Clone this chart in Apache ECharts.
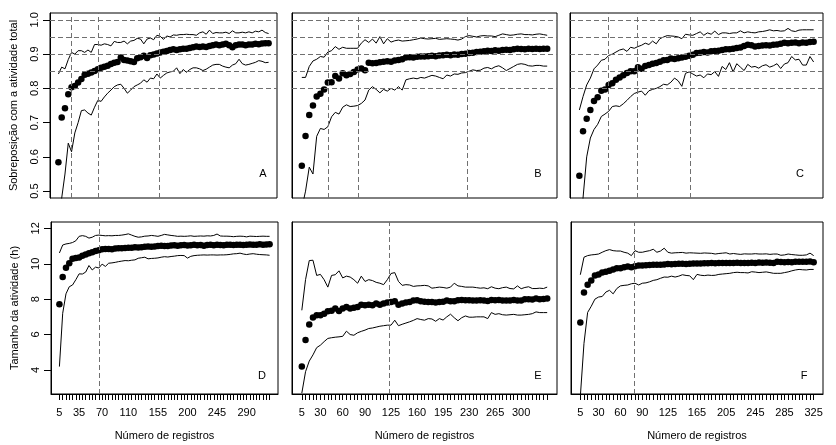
<!DOCTYPE html>
<html>
<head>
<meta charset="utf-8">
<script src="https://cdn.jsdelivr.net/npm/echarts@6/dist/echarts.min.js"></script>
<style>
html,body{margin:0;padding:0;background:#fff;}
#chart{width:836px;height:445px;}
</style>
</head>
<body>
<div id="chart"></div>
<script>
// ---------- data ----------
const records65 = [5,10,15,20,25,30,35,40,45,50,55,60,65,70,75,80,85,90,95,100,105,110,115,120,125,130,135,140,145,150,155,160,165,170,175,180,185,190,195,200,205,210,215,220,225,230,235,240,245,250,255,260,265,270,275,280,285,290,295,300,305,310,315,320,325];
const records67 = [5,10,15,20,25,30,35,40,45,50,55,60,65,70,75,80,85,90,95,100,105,110,115,120,125,130,135,140,145,150,155,160,165,170,175,180,185,190,195,200,205,210,215,220,225,230,235,240,245,250,255,260,265,270,275,280,285,290,295,300,305,310,315,320,325,330,335];

const xLabelsD = [5,35,70,110,155,200,245,290];
const xLabelsE = [5,30,60,90,125,160,195,230,265,300];
const xLabelsF = [5,30,60,90,125,165,205,245,285,325];

const yLimTop = [0.5, 1.0];
const yLimBottom = [3, 12];
const yTicksTop = [0.5,0.6,0.7,0.8,0.9,1.0];
const yTicksBottom = [4,6,8,10,12];
const hLevelsTop = [0.8,0.85,0.9,0.95,1.0];

const vLinesA = [25,66,158];
const vLinesB = [40,81,228];
const vLinesC = [44,84,157];
const vLinesD = [66];
const vLinesE = [122];
const vLinesF = [79];

const meanA = [0.584,0.715,0.742,0.783,0.803,0.807,0.817,0.827,0.840,0.843,
 0.846,0.851,0.856,0.860,0.863,0.866,0.871,0.875,0.877,0.890,
 0.883,0.881,0.879,0.877,0.888,0.891,0.895,0.889,0.897,0.899,
 0.902,0.905,0.907,0.909,0.912,0.914,0.912,0.914,0.916,0.916,
 0.918,0.920,0.922,0.921,0.922,0.921,0.924,0.926,0.928,0.926,
 0.928,0.930,0.926,0.920,0.926,0.928,0.928,0.926,0.928,0.928,
 0.930,0.929,0.931,0.932,0.932];
const upperA = [0.842,0.862,0.857,0.884,0.905,0.900,0.910,0.910,0.905,0.912,
 0.905,0.928,0.928,0.926,0.930,0.928,0.924,0.937,0.934,0.934,
 0.938,0.930,0.938,0.940,0.946,0.944,0.930,0.944,0.947,0.942,
 0.955,0.952,0.943,0.953,0.950,0.956,0.955,0.957,0.957,0.958,
 0.957,0.957,0.955,0.962,0.965,0.958,0.970,0.960,0.963,0.962,
 0.962,0.964,0.960,0.968,0.962,0.962,0.964,0.962,0.965,0.962,
 0.967,0.965,0.970,0.963,0.960];
const lowerA = [0.350,0.480,0.550,0.640,0.615,0.670,0.700,0.735,0.737,0.728,
 0.722,0.745,0.765,0.762,0.775,0.786,0.795,0.805,0.810,0.812,
 0.800,0.786,0.795,0.805,0.810,0.815,0.825,0.818,0.830,0.828,
 0.842,0.830,0.838,0.845,0.848,0.850,0.860,0.843,0.855,0.847,
 0.855,0.860,0.860,0.857,0.852,0.856,0.862,0.868,0.870,0.870,
 0.865,0.862,0.860,0.868,0.872,0.885,0.872,0.868,0.870,0.873,
 0.876,0.881,0.879,0.875,0.876];

const meanB = [0.574,0.661,0.722,0.750,0.776,0.784,0.797,0.817,0.818,0.836,
 0.829,0.844,0.838,0.842,0.848,0.855,0.858,0.853,0.875,0.873,
 0.874,0.876,0.878,0.879,0.878,0.881,0.883,0.885,0.890,0.891,
 0.890,0.892,0.893,0.893,0.894,0.895,0.894,0.896,0.897,0.898,
 0.897,0.899,0.898,0.900,0.901,0.903,0.904,0.906,0.907,0.908,
 0.910,0.909,0.911,0.910,0.912,0.913,0.912,0.914,0.916,0.915,
 0.914,0.916,0.915,0.916,0.915,0.916,0.916];
const upperB = [0.832,0.832,0.864,0.880,0.885,0.893,0.891,0.906,0.910,0.922,
 0.914,0.920,0.917,0.917,0.917,0.917,0.932,0.942,0.934,0.944,
 0.932,0.951,0.930,0.945,0.935,0.939,0.941,0.938,0.939,0.940,
 0.942,0.944,0.947,0.945,0.944,0.945,0.946,0.943,0.944,0.945,
 0.944,0.943,0.941,0.944,0.951,0.954,0.952,0.950,0.953,0.954,
 0.953,0.953,0.951,0.955,0.959,0.957,0.955,0.956,0.958,0.959,
 0.957,0.957,0.956,0.958,0.959,0.957,0.955];
const lowerB = [0.450,0.500,0.570,0.550,0.660,0.683,0.680,0.688,0.717,0.730,
 0.725,0.745,0.752,0.747,0.748,0.750,0.756,0.766,0.795,0.805,
 0.797,0.787,0.797,0.792,0.800,0.795,0.805,0.795,0.825,0.828,
 0.830,0.828,0.832,0.830,0.834,0.838,0.836,0.832,0.828,0.839,
 0.836,0.842,0.841,0.845,0.846,0.850,0.854,0.852,0.853,0.859,
 0.861,0.857,0.863,0.866,0.860,0.852,0.858,0.864,0.870,0.872,
 0.870,0.866,0.865,0.867,0.867,0.865,0.865];

const meanC = [0.545,0.675,0.711,0.737,0.763,0.774,0.793,0.797,0.810,0.815,
 0.825,0.832,0.838,0.845,0.850,0.850,0.862,0.857,0.865,0.868,
 0.872,0.874,0.878,0.882,0.883,0.887,0.886,0.888,0.890,0.892,
 0.895,0.898,0.903,0.904,0.906,0.905,0.908,0.909,0.910,0.912,
 0.914,0.914,0.916,0.918,0.919,0.924,0.927,0.926,0.922,0.924,
 0.925,0.926,0.925,0.927,0.928,0.930,0.933,0.932,0.933,0.934,
 0.932,0.934,0.933,0.935,0.936];
const upperC = [0.737,0.776,0.810,0.830,0.857,0.868,0.882,0.885,0.896,0.900,
 0.906,0.912,0.915,0.908,0.920,0.917,0.922,0.926,0.932,0.928,
 0.938,0.930,0.945,0.950,0.954,0.953,0.952,0.950,0.945,0.958,
 0.956,0.955,0.960,0.965,0.955,0.962,0.958,0.967,0.957,0.962,
 0.962,0.960,0.962,0.962,0.968,0.962,0.965,0.963,0.962,0.965,
 0.966,0.968,0.971,0.968,0.969,0.967,0.968,0.975,0.968,0.966,
 0.970,0.971,0.971,0.971,0.971];
const lowerC = [0.350,0.480,0.600,0.655,0.680,0.695,0.718,0.725,0.733,0.747,
 0.749,0.747,0.755,0.765,0.776,0.785,0.789,0.792,0.780,0.793,
 0.797,0.800,0.805,0.812,0.810,0.818,0.830,0.822,0.806,0.844,
 0.848,0.842,0.836,0.839,0.831,0.842,0.840,0.849,0.835,0.864,
 0.855,0.875,0.848,0.872,0.862,0.852,0.870,0.862,0.864,0.859,
 0.866,0.869,0.862,0.866,0.872,0.858,0.871,0.875,0.893,0.883,
 0.885,0.868,0.868,0.893,0.877];

const meanD = [7.71,9.25,9.77,10.03,10.28,10.32,10.35,10.45,10.52,10.60,
 10.65,10.72,10.76,10.82,10.84,10.83,10.82,10.86,10.88,10.87,
 10.89,10.90,10.91,10.93,10.92,10.94,10.96,10.97,10.96,10.98,
 11.00,11.02,11.00,11.01,11.03,11.05,11.02,11.04,11.06,11.03,
 11.05,11.07,11.04,11.06,11.02,11.06,11.07,11.05,11.08,11.06,
 11.05,11.07,11.08,11.06,11.08,11.07,11.06,11.08,11.09,11.07,
 11.08,11.10,11.07,11.09,11.10];
const upperD = [10.61,11.06,11.12,11.15,11.20,11.30,11.55,11.59,11.55,11.45,
 11.50,11.60,11.62,11.60,11.58,11.59,11.58,11.60,11.60,11.62,
 11.65,11.69,11.62,11.55,11.50,11.52,11.56,11.57,11.60,11.58,
 11.55,11.60,11.66,11.63,11.60,11.58,11.55,11.56,11.55,11.56,
 11.58,11.55,11.56,11.57,11.56,11.58,11.57,11.60,11.68,11.57,
 11.56,11.56,11.55,11.53,11.55,11.56,11.55,11.52,11.56,11.55,
 11.54,11.55,11.56,11.55,11.55];
const lowerD = [4.19,7.20,8.30,8.70,8.80,9.10,9.43,9.42,9.53,9.90,
 9.65,9.81,9.76,9.98,9.85,10.03,10.05,10.08,10.12,10.15,
 10.18,10.17,10.20,10.22,10.31,10.34,10.37,10.28,10.30,10.31,
 10.33,10.37,10.40,10.38,10.41,10.43,10.46,10.47,10.46,10.32,
 10.42,10.46,10.48,10.49,10.50,10.49,10.50,10.50,10.49,10.50,
 10.50,10.51,10.53,10.56,10.57,10.60,10.55,10.52,10.55,10.57,
 10.54,10.52,10.51,10.50,10.48];

const meanE = [4.19,5.69,6.57,6.96,7.09,7.09,7.18,7.32,7.35,7.47,
 7.33,7.47,7.56,7.47,7.51,7.56,7.69,7.65,7.69,7.65,
 7.75,7.69,7.75,7.81,7.84,7.88,7.69,7.75,7.81,7.84,
 7.92,7.94,7.88,7.86,7.84,7.84,7.81,7.84,7.86,7.92,
 7.88,7.88,7.94,7.95,7.94,7.94,7.92,7.92,7.94,7.92,
 7.90,7.95,7.94,7.95,7.93,7.92,7.92,7.95,7.92,7.93,
 7.99,7.99,7.98,8.03,8.00,8.01,8.03];
const upperE = [7.37,9.10,10.18,10.20,9.34,9.40,9.10,8.68,9.34,9.38,
 9.60,9.20,9.30,9.25,9.10,8.90,9.30,9.00,9.10,9.05,
 8.95,8.90,8.82,9.10,9.45,9.50,9.00,8.78,8.82,8.80,
 8.72,8.75,8.76,8.78,8.75,8.62,8.65,8.68,8.66,8.62,
 8.68,8.90,8.75,8.72,8.68,8.68,8.68,8.65,8.62,8.64,
 8.59,8.70,8.62,8.59,8.65,8.68,8.60,8.58,8.75,8.59,
 8.66,8.70,8.60,8.60,8.62,8.60,8.68];
const lowerE = [2.69,3.90,4.50,4.85,5.26,5.40,5.60,5.78,5.82,5.85,
 5.87,5.90,6.19,6.00,5.96,6.10,6.18,6.25,6.34,6.37,
 6.42,6.47,6.50,6.53,6.53,6.81,6.50,6.58,6.65,6.72,
 6.80,6.90,6.85,6.81,6.90,6.88,6.75,6.90,6.82,7.00,
 7.15,6.95,6.78,6.95,7.05,6.98,6.98,7.00,7.00,7.00,
 6.90,7.24,7.14,7.18,7.12,7.10,7.12,7.14,7.10,7.10,
 7.12,7.14,7.18,7.28,7.24,7.24,7.24];

const meanF = [6.68,8.37,8.81,9.06,9.34,9.40,9.50,9.55,9.60,9.68,
 9.75,9.75,9.80,9.84,9.80,9.86,9.90,9.90,9.92,9.93,
 9.94,9.95,9.94,9.96,9.98,9.97,9.98,10.00,10.00,9.99,
 10.00,10.01,10.02,10.01,10.03,10.03,10.04,10.03,10.05,10.05,
 10.04,10.05,10.05,10.06,10.04,10.05,10.05,10.06,10.05,10.07,
 10.06,10.07,10.06,10.04,10.12,10.10,10.09,10.10,10.09,10.12,
 10.12,10.11,10.12,10.13,10.09];
const upperF = [9.38,10.37,10.46,10.50,10.52,10.55,10.65,10.74,10.80,10.74,
 10.72,10.72,10.65,10.60,10.46,10.74,10.65,10.65,10.70,10.74,
 10.82,10.65,10.72,10.88,10.65,10.60,10.62,10.63,10.64,10.60,
 10.62,10.61,10.60,10.59,10.61,10.60,10.59,10.55,10.58,10.60,
 10.62,10.55,10.58,10.55,10.53,10.56,10.55,10.55,10.57,10.55,
 10.55,10.56,10.53,10.55,10.55,10.48,10.50,10.55,10.52,10.50,
 10.48,10.48,10.50,10.60,10.46];
const lowerF = [2.50,5.50,7.25,7.60,8.00,8.12,8.15,8.40,8.50,8.30,
 8.60,8.75,8.78,8.80,8.87,8.90,8.80,8.90,8.92,8.98,
 9.06,9.10,9.18,9.25,9.24,9.30,9.25,9.30,9.38,9.34,
 9.32,9.10,9.40,9.35,9.33,9.36,9.34,9.35,9.40,9.42,
 9.44,9.46,9.50,9.52,9.50,9.50,9.48,9.55,9.53,9.50,
 9.52,9.54,9.50,9.46,9.46,9.46,9.50,9.54,9.60,9.65,
 9.68,9.66,9.65,9.68,9.68];

const titleTop = 'Sobreposição com a atividade total';
const titleBottom = 'Tamanho da atividade (h)';
const titleX = 'Número de registros';

// ---------- layout ----------
const FONT = 'Liberation Sans, Arial, sans-serif';
const panels = [
  {letter:'A', grid:{left:50, top:13, width:227, height:185}, rec:records65, mean:meanA, up:upperA, lo:lowerA, row:'top', vl:vLinesA, yAxisShown:true,  xLabels:null, letterPos:[263,174]},
  {letter:'B', grid:{left:292,top:13, width:265, height:185}, rec:records67, mean:meanB, up:upperB, lo:lowerB, row:'top', vl:vLinesB, yAxisShown:false, xLabels:null, letterPos:[538,174]},
  {letter:'C', grid:{left:570,top:13, width:253, height:185}, rec:records65, mean:meanC, up:upperC, lo:lowerC, row:'top', vl:vLinesC, yAxisShown:false, xLabels:null, letterPos:[800,174]},
  {letter:'D', grid:{left:51, top:222,width:227, height:172}, rec:records65, mean:meanD, up:upperD, lo:lowerD, row:'bottom', vl:vLinesD, yAxisShown:true,  xLabels:xLabelsD, letterPos:[262,376]},
  {letter:'E', grid:{left:292,top:222,width:265, height:172}, rec:records67, mean:meanE, up:upperE, lo:lowerE, row:'bottom', vl:vLinesE, yAxisShown:false, xLabels:xLabelsE, letterPos:[538,376]},
  {letter:'F', grid:{left:571,top:222,width:252, height:172}, rec:records65, mean:meanF, up:upperF, lo:lowerF, row:'bottom', vl:vLinesF, yAxisShown:false, xLabels:xLabelsF, letterPos:[804,376]}
];

function padRange(a, b){ const d = (b - a) * 0.04; return [a - d, b + d]; }
function pairs(xs, ys){ return xs.map((x, i) => [x, ys[i]]); }

const grids = [], xAxes = [], yAxes = [], series = [], graphics = [];
const dashStyle = {type:[5,3], color:'#707070', width:1, opacity:1};

panels.forEach((p, k) => {
  grids.push(Object.assign({show:true, borderColor:'#000', borderWidth:1, backgroundColor:'transparent'}, p.grid));
  const xr = padRange(p.rec[0], p.rec[p.rec.length - 1]);
  const hasX = !!p.xLabels;
  xAxes.push({
    type:'value', gridIndex:k, min:xr[0], max:xr[1],
    axisLine:{show:hasX, onZero:false, lineStyle:{color:'#000', width:1}},
    splitLine:{show:false},
    axisTick:{show:hasX, inside:false, length:6, lineStyle:{color:'#000', width:1}, customValues:p.rec},
    axisLabel:{show:hasX, margin:13, color:'#000', fontSize:11, fontFamily:FONT, customValues: hasX ? p.xLabels : []},
    name: hasX ? titleX : '', nameLocation:'middle', nameGap:36,
    nameTextStyle:{color:'#000', fontSize:11, fontFamily:FONT}
  });
  const top = p.row === 'top';
  const yr = padRange.apply(null, top ? yLimTop : yLimBottom);
  const ticks = top ? yTicksTop : yTicksBottom;
  yAxes.push({
    type:'value', gridIndex:k, min:yr[0], max:yr[1],
    axisLine:{show:true, onZero:false, lineStyle:{color:'#000', width:1}},
    splitLine:{show:false},
    axisTick:{show:p.yAxisShown, inside:false, length:7, lineStyle:{color:'#000', width:1}, customValues:ticks},
    axisLabel:{show:p.yAxisShown, rotate:90, margin:10, color:'#000', fontSize:11, fontFamily:FONT,
      customValues:ticks, formatter: v => top ? Number(v).toFixed(1) : String(Math.round(v))},
    name: p.yAxisShown ? (top ? titleTop : titleBottom) : '', nameLocation:'middle', nameGap:31,
    nameTextStyle:{color:'#000', fontSize:11, fontFamily:FONT}
  });
  const mlData = [];
  if (top) hLevelsTop.forEach(v => mlData.push({yAxis:v}));
  p.vl.forEach(v => mlData.push({xAxis:v}));
  series.push({
    type:'line', xAxisIndex:k, yAxisIndex:k, data:pairs(p.rec, p.up), showSymbol:false, symbol:'none',
    lineStyle:{color:'#000', width:1}, clip:true, silent:true, z:2,
    markLine:{silent:true, symbol:'none', label:{show:false}, lineStyle:dashStyle, data:mlData, animation:false}
  });
  series.push({
    type:'line', xAxisIndex:k, yAxisIndex:k, data:pairs(p.rec, p.lo), showSymbol:false, symbol:'none',
    lineStyle:{color:'#000', width:1}, clip:true, silent:true, z:2
  });
  series.push({
    type:'scatter', xAxisIndex:k, yAxisIndex:k, data:pairs(p.rec, p.mean), symbol:'circle', symbolSize:6.5,
    itemStyle:{color:'#000', opacity:1}, silent:true, z:3
  });
  graphics.push({type:'text', x:p.letterPos[0], y:p.letterPos[1],
    style:{text:p.letter, fill:'#000', font:'11px ' + FONT, textAlign:'center', textVerticalAlign:'middle'}});
});

const chart = echarts.init(document.getElementById('chart'), null, {renderer:'canvas'});
chart.setOption({
  animation:false,
  backgroundColor:'#fff',
  grid:grids, xAxis:xAxes, yAxis:yAxes, series:series, graphic:graphics
});
</script>
</body>
</html>
